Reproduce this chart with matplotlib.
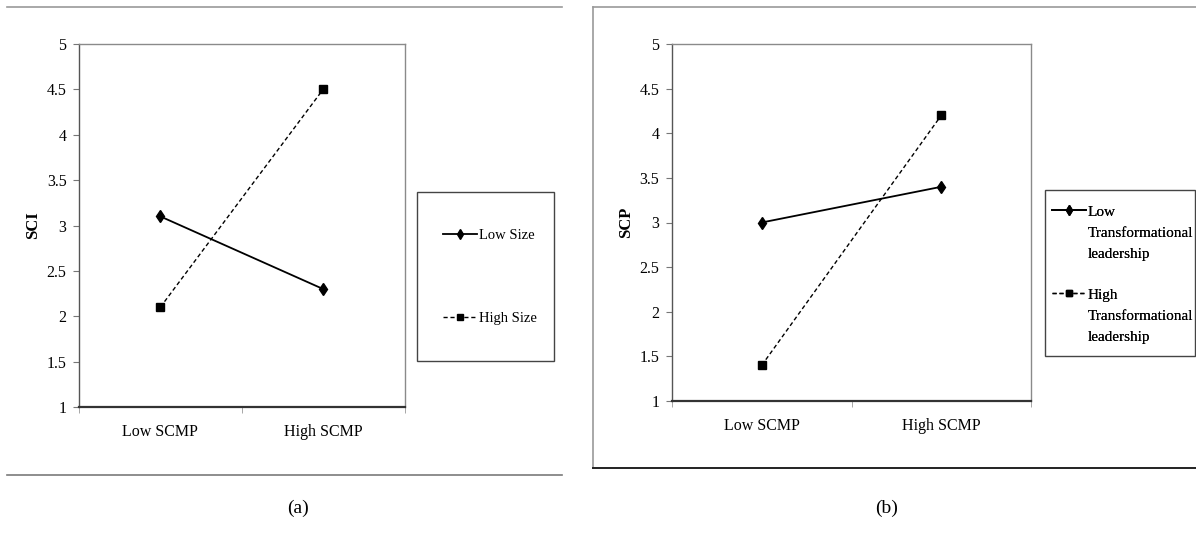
import matplotlib.pyplot as plt
from matplotlib.lines import Line2D
from matplotlib.patches import Rectangle

W, H = 1196, 533

categories = ['Low SCMP', 'High SCMP']
y_ticks = [1, 1.5, 2, 2.5, 3, 3.5, 4, 4.5, 5]
y_ticklabels = ['1', '1.5', '2', '2.5', '3', '3.5', '4', '4.5', '5']

# panel (a): SCI by size
sci_low_size = [3.1, 2.3]
sci_high_size = [2.1, 4.5]
labels_a = ['Low Size', 'High Size']

# panel (b): SCP by transformational leadership
scp_low_tl = [3.0, 3.4]
scp_high_tl = [1.4, 4.2]
labels_b = [['Low', 'Transformational', 'leadership'],
            ['High', 'Transformational', 'leadership']]

plt.rcParams['font.family'] = ['Liberation Serif', 'DejaVu Serif']


def fx(x):
    return x / W


def fy(y):
    return 1 - y / H


def style_axes(ax, ylabel):
    ax.set_xlim(-0.5, 1.5)
    ax.set_ylim(1, 5)
    ax.set_xticks([0, 1])
    ax.set_xticklabels(categories, fontsize=11.5)
    ax.set_xticks([-0.5, 0.5, 1.5], minor=True)
    ax.tick_params(axis='x', which='major', length=0, pad=12)
    ax.tick_params(axis='x', which='minor', length=4, color='#999999', direction='out')
    ax.set_yticks(y_ticks)
    ax.set_yticklabels(y_ticklabels, fontsize=11.5)
    ax.tick_params(axis='y', length=4, color='#777777', pad=5)
    for side in ['top', 'right']:
        ax.spines[side].set_color('#8a8a8a')
        ax.spines[side].set_linewidth(1.0)
    ax.spines['left'].set_color('#555555')
    ax.spines['left'].set_linewidth(1.0)
    ax.spines['bottom'].set_color('#333333')
    ax.spines['bottom'].set_linewidth(1.6)
    ax.set_ylabel(ylabel, fontsize=12, fontweight='bold', labelpad=4)


def plot_pair(ax, low, high):
    x = range(len(categories))
    ax.plot(x, low, '-', color='black', lw=1.3, marker='d', markersize=6,
            markerfacecolor='black', markeredgecolor='black')
    ax.plot(x, high, color='black', lw=1.0, linestyle=(0, (3, 2)), marker='s',
            markersize=6, markerfacecolor='black', markeredgecolor='black')


def legend_handles():
    low_h = Line2D([], [], color='black', lw=1.3, marker='d', markersize=5)
    high_h = Line2D([], [], color='black', lw=1.0, linestyle=(0, (3, 2)),
                    marker='s', markersize=5)
    blank = Line2D([], [], linestyle='none')
    return low_h, high_h, blank


fig = plt.figure(figsize=(W / 100, H / 100), dpi=100)

# outer frame lines of the two panels
fig.add_artist(Line2D([fx(7), fx(562)], [fy(7), fy(7)], color='#9a9a9a', lw=1.2))
fig.add_artist(Line2D([fx(7), fx(562)], [fy(475), fy(475)], color='#7a7a7a', lw=1.2))
fig.add_artist(Line2D([fx(593), fx(1196)], [fy(7), fy(7)], color='#9a9a9a', lw=1.2))
fig.add_artist(Line2D([fx(593), fx(593)], [fy(7), fy(468)], color='#9a9a9a', lw=1.2))
fig.add_artist(Line2D([fx(593), fx(1196)], [fy(468), fy(468)], color='#222222', lw=1.4))

# panel (a)
ax_a = fig.add_axes([fx(79), fy(407), (404.5 - 79) / W, (407 - 44) / H])
plot_pair(ax_a, sci_low_size, sci_high_size)
style_axes(ax_a, 'SCI')

fig.add_artist(Rectangle((fx(417), fy(361)), (554 - 417) / W, (361 - 192) / H,
                         transform=fig.transFigure, fill=False,
                         edgecolor='#444444', lw=1.0))
low_h, high_h, blank = legend_handles()
fig.legend([low_h, high_h], labels_a, loc='upper left',
           bbox_to_anchor=(fx(443), fy(229)), frameon=False, fontsize=10.5,
           borderpad=0, borderaxespad=0, handlelength=2.3, handletextpad=0.15,
           labelspacing=4.8)

# panel (b)
ax_b = fig.add_axes([fx(672), fy(401), (1031 - 672) / W, (401 - 44) / H])
plot_pair(ax_b, scp_low_tl, scp_high_tl)
style_axes(ax_b, 'SCP')

fig.add_artist(Rectangle((fx(1045), fy(356)), (1195 - 1045) / W, (356 - 190) / H,
                         transform=fig.transFigure, fill=False,
                         edgecolor='#444444', lw=1.0))
for handle, lines, top in [(low_h, labels_b[0], 205), (high_h, labels_b[1], 288)]:
    leg = fig.legend([handle, blank, blank], lines, loc='upper left',
                     bbox_to_anchor=(fx(1052), fy(top)), frameon=False,
                     fontsize=11, borderpad=0, borderaxespad=0,
                     handlelength=2.2, handletextpad=0.15, labelspacing=0.5)
    fig.add_artist(leg)

fig.text(fx(298), fy(508), '(a)', fontsize=14, ha='center', va='center')
fig.text(fx(887), fy(508), '(b)', fontsize=14, ha='center', va='center')

fig.savefig('out.png', dpi=100)
